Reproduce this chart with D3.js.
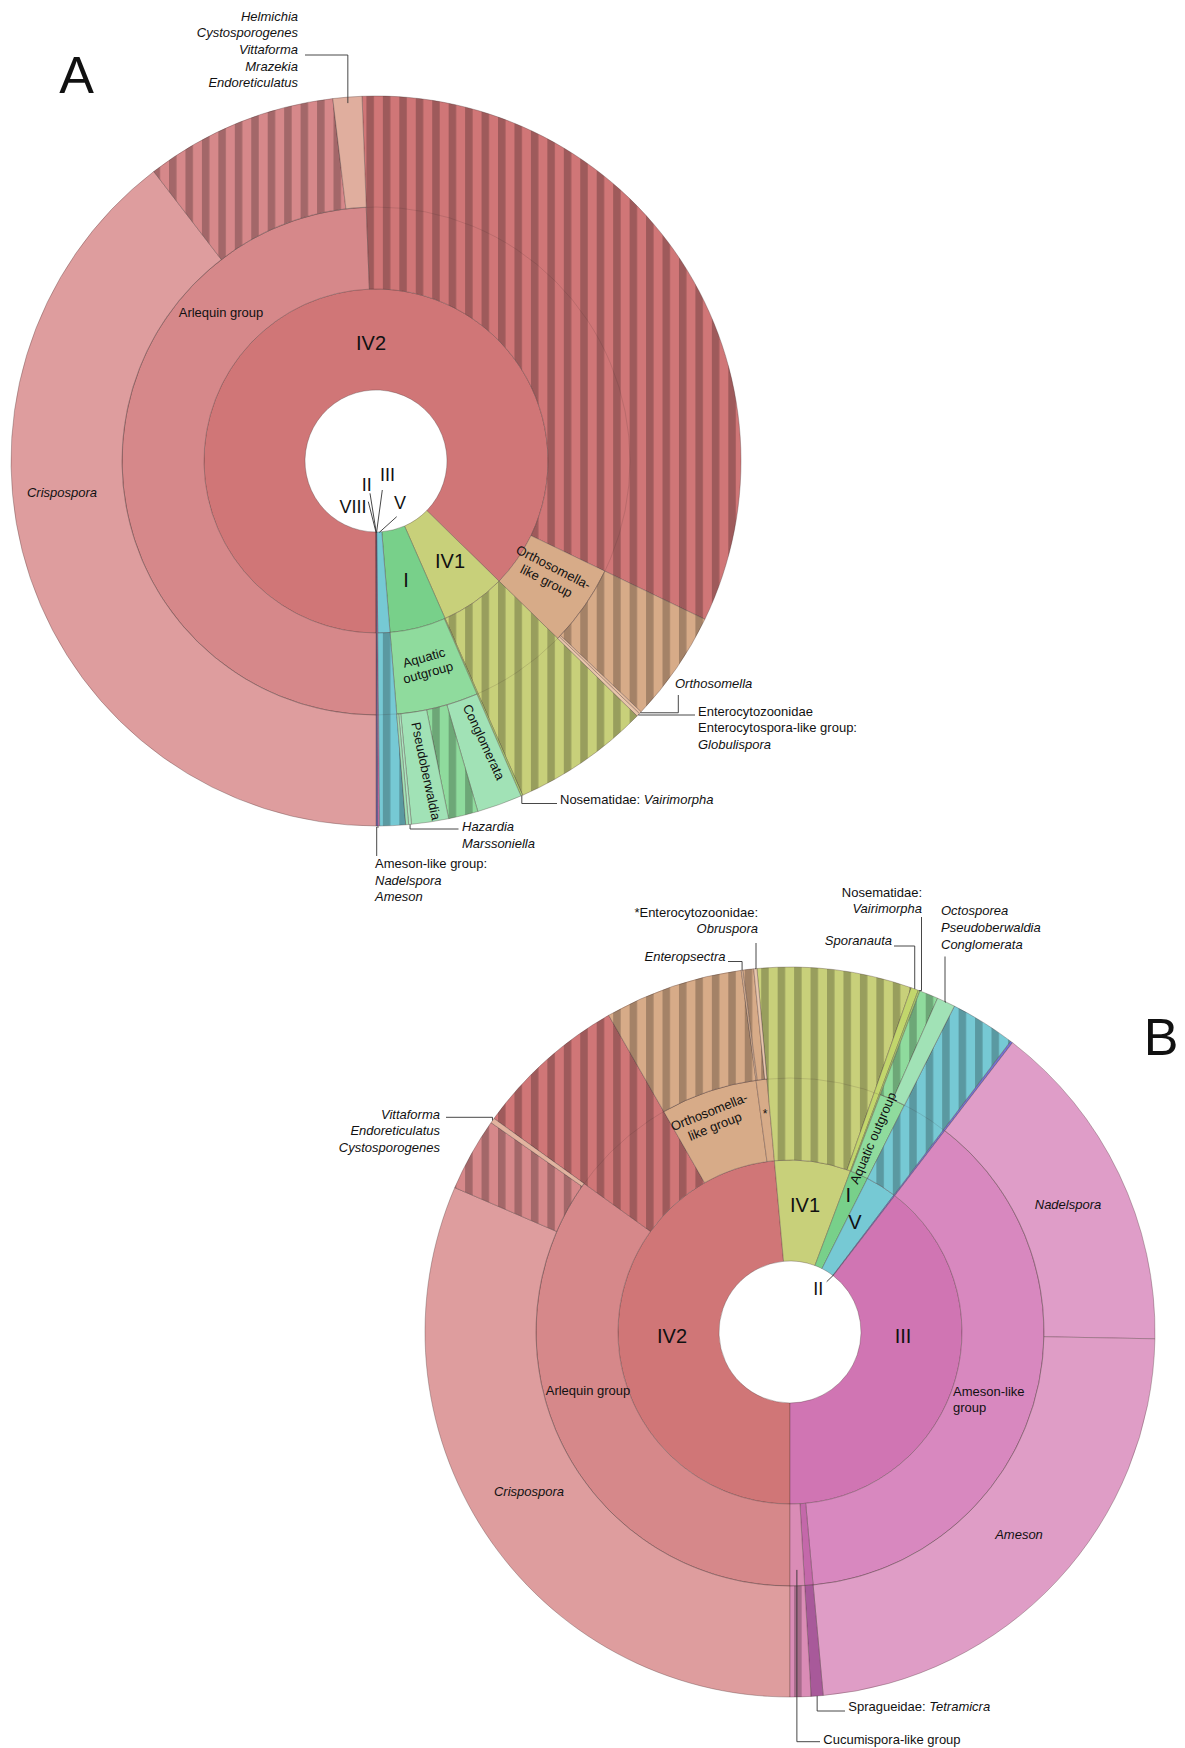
<!DOCTYPE html>
<html>
<head>
<meta charset="utf-8">
<script src="https://cdn.jsdelivr.net/npm/d3@7"></script>
<style>
  body { margin: 0; background: #fff; }
  svg { display: block; }
  text { font-family: "Liberation Sans", Arial, Helvetica, sans-serif; fill: #111; }
</style>
</head>
<body>
<div class="container"></div>
<script>
// DATA: share of reads (%) per taxon, leaves only (parents are summed)
// panel A
const cladesA = [
    ["IV2", null], ["IV1", null], ["I", null], ["V", null],
    ["III", 0.08], ["II", 0.04], ["VIII", 0.04]
];
const groupsA = [
    ["IV2", "Arlequin group", null],
    ["IV2", "unclassified IV2", 32.75],
    ["IV2", "Orthosomella-like group", null],
    ["IV1", "unclassified IV1", 6.11],
    ["I", "Nosematidae", 0.08],
    ["I", "Aquatic outgroup", null],
    ["V", "unclassified V", 1.14]
];
const generaA = [
    ["Arlequin group", "Crispospora", 39.58],
    ["Arlequin group", "unclassified Arlequin", 8.53],
    ["Arlequin group", "Helmichia group", 1.28],
    ["Orthosomella-like group", "unclassified Orthosomella-like", 4.92],
    ["Orthosomella-like group", "Orthosomella", 0.11],
    ["Orthosomella-like group", "Globulispora", 0.14],
    ["Aquatic outgroup", "Conglomerata", 2.00],
    ["Aquatic outgroup", "unclassified Aquatic", 1.31],
    ["Aquatic outgroup", "Pseudoberwaldia", 1.64],
    ["Aquatic outgroup", "Hazardia", 0.125],
    ["Aquatic outgroup", "Marssoniella", 0.125]
];

// panel B
const cladesB = [
    ["IV2", null], ["IV1", null], ["I", null], ["V", null],
    ["II", 0.11], ["III", null]
];
const groupsB = [
    ["IV2", "Arlequin group", null],
    ["IV2", "unclassified IV2", 6.78],
    ["IV2", "Orthosomella-like group", null],
    ["IV2", "*Enterocytozoonidae", null],
    ["IV1", "unclassified IV1", 6.83],
    ["IV1", "Sporanauta", 0.33],
    ["I", "Nosematidae", 0.08],
    ["I", "Aquatic outgroup", null],
    ["V", "unclassified V", 2.89],
    ["III", "Ameson-like group", null],
    ["III", "Spragueidae", null],
    ["III", "Cucumispora-like group", null]
];
const generaB = [
    ["Arlequin group", "Crispospora", 31.47],
    ["Arlequin group", "unclassified Arlequin", 3.25],
    ["Arlequin group", "Vittaforma group", 0.22],
    ["Orthosomella-like group", "unclassified Orthosomella-like", 6.14],
    ["*Enterocytozoonidae", "Enteropsectra", 0.08],
    ["*Enterocytozoonidae", "unclassified Enterocytozoonidae", 0.47],
    ["*Enterocytozoonidae", "Obruspora", 0.14],
    ["Aquatic outgroup", "unclassified Aquatic", 0.83],
    ["Aquatic outgroup", "Octosporea group", 0.81],
    ["Ameson-like group", "Nadelspora", 14.86],
    ["Ameson-like group", "Ameson", 23.25],
    ["Spragueidae", "Tetramicra", 0.53],
    ["Cucumispora-like group", "unclassified Cucumispora-like", 0.92]
];

// STYLE
const fills = {
    "IV2": "#d07677", "Arlequin group": "#d6888a", "Crispospora": "#de9d9e",
    "Helmichia group": "#e0ae9e", "Vittaforma group": "#e2b39f",
    "Orthosomella-like group": "#d7ab88", "Orthosomella": "#e4bc9f", "Globulispora": "#e9c6ab",
    "*Enterocytozoonidae": "#d7ab88", "Enteropsectra": "#dcb596", "Obruspora": "#e8c6ad",
    "IV1": "#c8d07a", "Sporanauta": "#c2d66c",
    "I": "#78d08a", "Nosematidae": "#a9d06e", "Aquatic outgroup": "#8fdb9d",
    "Conglomerata": "#a1e2b6", "Pseudoberwaldia": "#a1e2b6", "Hazardia": "#aee6c2",
    "Marssoniella": "#a1e2b6", "Octosporea group": "#a1e2b6",
    "V": "#76c9d4",
    "II": "#7470d2", "VIII": "#6b6bcc",
    "III": "#d075b3", "Ameson-like group": "#d888bf", "Nadelspora": "#df9dc8", "Ameson": "#df9dc6",
    "Spragueidae": "#c468aa", "Tetramicra": "#a8599a", "Cucumispora-like group": "#da8cb6"
};

const width = 1185, height = 1748;
const radii = [71, 172, 254, 365];
const startAngle = Math.PI;   // first clade starts at 6 o'clock
const period = 16.45;
const fontSize = 13;

const svg = d3.select(".container")
    .append("svg")
    .attr("width", width)
    .attr("height", height);

const defs = svg.append("defs");

const it = s => [s, true];
const rm = s => [s, false];

function buildTree(clades, groups, genera) {
    const rows = [{ id: "root", parent: null, share: 0 }];
    clades.forEach(([name, share]) => rows.push({ id: name, parent: "root", share: share || 0 }));
    groups.forEach(([parent, name, share]) => rows.push({ id: name, parent: parent, share: share || 0 }));
    genera.forEach(([parent, name, share]) => rows.push({ id: name, parent: parent, share: share || 0 }));
    const root = d3.stratify().id(d => d.id).parentId(d => d.parent)(rows);
    root.sum(d => d.share);
    d3.partition().size([2 * Math.PI, 3])(root);
    return root;
}

const unclassified = d => d.id.startsWith("unclassified");
const fillOf = d => unclassified(d) ? fills[d.parent.id] : fills[d.id];

function drawPanel(cfg) {
    const root = buildTree(cfg.clades, cfg.groups, cfg.genera);
    const nodes = root.descendants().filter(d => d.depth > 0);
    const cx = cfg.cx, cy = cfg.cy;

    // vertical stripes for reads without finer classification
    const pid = "stripes-" + cfg.name;
    const pattern = defs.append("pattern")
        .attr("id", pid)
        .attr("patternUnits", "userSpaceOnUse")
        .attr("width", period)
        .attr("height", 10)
        .attr("x", (((4.5 - cx) % period) + period) % period);
    pattern.append("rect")
        .attr("width", 7.5)
        .attr("height", 10)
        .attr("fill", "#000")
        .attr("fill-opacity", 0.24);

    const arc = d3.arc()
        .startAngle(d => d.x0 + startAngle)
        .endAngle(d => d.x1 + startAngle)
        .innerRadius(d => radii[d.depth - 1])
        .outerRadius(d => d.children ? radii[d.depth] : radii[3]);

    const g = svg.append("g")
        .attr("transform", `translate(${cx},${cy})`);

    g.selectAll("path.seg")
        .data(nodes)
        .join("path")
        .attr("class", "seg")
        .attr("d", arc)
        .attr("fill", fillOf)
        .attr("stroke", "#4a3434")
        .attr("stroke-opacity", 0.55)
        .attr("stroke-width", 0.6);

    g.selectAll("path.stripe")
        .data(nodes.filter(unclassified))
        .join("path")
        .attr("class", "stripe")
        .attr("d", arc)
        .attr("fill", `url(#${pid})`);

    // faint ring line through the striped bands
    g.append("circle")
        .attr("r", radii[2])
        .attr("fill", "none")
        .attr("stroke", "#3a2a2a")
        .attr("stroke-opacity", 0.25)
        .attr("stroke-width", 0.6);

    const point = (id, r) => {
        const d = root.find(n => n.id === id);
        const a = (d.x0 + d.x1) / 2 + startAngle;
        return [cx + r * Math.sin(a), cy - r * Math.cos(a)];
    };

    // labels inside the wedges, placed relative to the centre
    cfg.wedgeLabels.forEach(l => {
        const t = g.append("text")
            .attr("transform", `translate(${l.dx},${l.dy}) rotate(${l.rot || 0})`)
            .attr("text-anchor", l.anchor || "middle")
            .style("font-size", (l.size || fontSize) + "px")
            .style("font-style", l.italic ? "italic" : "normal");
        const n = l.text.length;
        l.text.forEach((line, i) => {
            t.append("tspan")
                .attr("x", 0)
                .attr("y", (i - (n - 1) / 2) * 15.5)
                .attr("dy", "0.35em")
                .text(line);
        });
    });

    // call-outs with leader lines
    const line = d3.line();
    cfg.callouts.forEach(c => {
        const tgt = point(c.target, c.r);
        const elbow = c.elbow === "hv" ? [tgt[0], c.from[1]] : [c.from[0], tgt[1]];
        svg.append("path")
            .attr("d", line([c.from, elbow, tgt]))
            .attr("fill", "none")
            .attr("stroke", "#333")
            .attr("stroke-width", 0.9);
        const t = svg.append("text")
            .attr("text-anchor", c.anchor)
            .style("font-size", fontSize + "px");
        c.lines.forEach((parts, i) => {
            parts.forEach(([s, italic], j) => {
                const sp = t.append("tspan").text(s).style("font-style", italic ? "italic" : "normal");
                if (j === 0) sp.attr("x", c.x).attr("y", c.y + i * 16.7).attr("dy", "0.35em");
            });
        });
    });

    // clade numerals with short pointers
    cfg.numerals.forEach(nm => {
        const tgt = point(nm.target, radii[0] + 0.5);
        svg.append("line")
            .attr("x1", nm.from[0]).attr("y1", nm.from[1])
            .attr("x2", tgt[0]).attr("y2", tgt[1])
            .attr("stroke", "#333")
            .attr("stroke-width", 0.9);
        svg.append("text")
            .attr("x", nm.x).attr("y", nm.y)
            .attr("dy", "0.35em")
            .attr("text-anchor", "middle")
            .style("font-size", "18px")
            .text(nm.text);
    });

    svg.append("text")
        .attr("x", cfg.letter[0]).attr("y", cfg.letter[1])
        .attr("text-anchor", "middle")
        .style("font-size", "52px")
        .text(cfg.name);
}

drawPanel({
    name: "A", cx: 376, cy: 461, letter: [76.5, 92.7],
    clades: cladesA, groups: groupsA, genera: generaA,
    wedgeLabels: [
        { text: ["IV2"], dx: -5, dy: -118, size: 20 },
        { text: ["IV1"], dx: 74, dy: 100, size: 20 },
        { text: ["I"], dx: 30, dy: 119, size: 20 },
        { text: ["Arlequin group"], dx: -155, dy: -149 },
        { text: ["Crispospora"], dx: -314, dy: 31, italic: true },
        { text: ["Orthosomella-", "like group"], dx: 174, dy: 113, rot: 27 },
        { text: ["Aquatic", "outgroup"], dx: 50, dy: 204, rot: -15.6 },
        { text: ["Conglomerata"], dx: 108, dy: 281, rot: 65 },
        { text: ["Pseudoberwaldia"], dx: 50, dy: 310, rot: 78 }
    ],
    callouts: [
        { lines: [[it("Helmichia")], [it("Cystosporogenes")], [it("Vittaforma")], [it("Mrazekia")], [it("Endoreticulatus")]],
          x: 298, y: 16, anchor: "end", from: [305, 55], elbow: "hv", target: "Helmichia group", r: 359 },
        { lines: [[it("Orthosomella")]], x: 675, y: 683, anchor: "start",
          from: [678.3, 695], elbow: "vh", target: "Orthosomella", r: 365 },
        { lines: [[rm("Enterocytozoonidae")], [rm("Enterocytospora-like group:")], [it("Globulispora")]],
          x: 698, y: 711, anchor: "start", from: [695, 715], elbow: "hv", target: "Globulispora", r: 365 },
        { lines: [[rm("Nosematidae: "), it("Vairimorpha")]], x: 560, y: 799, anchor: "start",
          from: [557, 803.5], elbow: "hv", target: "Nosematidae", r: 365 },
        { lines: [[it("Hazardia")], [it("Marssoniella")]], x: 462, y: 826.5, anchor: "start",
          from: [458.5, 829], elbow: "hv", target: "Hazardia", r: 365 },
        { lines: [[rm("Ameson-like group:")], [it("Nadelspora")], [it("Ameson")]], x: 375, y: 863.5, anchor: "start",
          from: [376.7, 856], elbow: "vh", target: "III", r: 366 }
    ],
    numerals: [
        { text: "VIII", x: 353, y: 507, from: [368.3, 501.7], target: "VIII" },
        { text: "II", x: 366.7, y: 485, from: [370, 493.3], target: "II" },
        { text: "III", x: 387.5, y: 475, from: [382.3, 490], target: "III" },
        { text: "V", x: 400, y: 502.5, from: [396.7, 516.7], target: "V" }
    ]
});

drawPanel({
    name: "B", cx: 790, cy: 1332, letter: [1161, 1054.6],
    clades: cladesB, groups: groupsB, genera: generaB,
    wedgeLabels: [
        { text: ["IV2"], dx: -118, dy: 3.5, size: 20 },
        { text: ["III"], dx: 113, dy: 3.5, size: 20 },
        { text: ["IV1"], dx: 15, dy: -127, size: 20 },
        { text: ["I"], dx: 58.3, dy: -137, size: 20 },
        { text: ["V"], dx: 65, dy: -110.3, size: 20 },
        { text: ["Aquatic outgroup"], dx: 83, dy: -194, rot: -66.8 },
        { text: ["Orthosomella-", "like group"], dx: -78, dy: -213, rot: -21.8 },
        { text: ["*"], dx: -25, dy: -218.7, size: 12 },
        { text: ["Arlequin group"], dx: -202, dy: 58 },
        { text: ["Crispospora"], dx: -261, dy: 159.6, italic: true },
        { text: ["Ameson-like", "group"], dx: 163, dy: 67.5, anchor: "start" },
        { text: ["Nadelspora"], dx: 278, dy: -128, italic: true },
        { text: ["Ameson"], dx: 229, dy: 202, italic: true }
    ],
    callouts: [
        { lines: [[rm("*Enterocytozoonidae:")], [it("Obruspora")]], x: 758, y: 912, anchor: "end",
          from: [756, 943], elbow: "vh", target: "Obruspora", r: 365 },
        { lines: [[it("Enteropsectra")]], x: 725.5, y: 956.5, anchor: "end",
          from: [728, 961.5], elbow: "hv", target: "Enteropsectra", r: 365 },
        { lines: [[rm("Nosematidae:")], [it("Vairimorpha")]], x: 922, y: 892, anchor: "end",
          from: [921.5, 917], elbow: "vh", target: "Nosematidae", r: 365 },
        { lines: [[it("Sporanauta")]], x: 892, y: 940, anchor: "end",
          from: [894, 946], elbow: "hv", target: "Sporanauta", r: 365 },
        { lines: [[it("Octosporea")], [it("Pseudoberwaldia")], [it("Conglomerata")]], x: 941, y: 910.8, anchor: "start",
          from: [945, 956.5], elbow: "vh", target: "Octosporea group", r: 365 },
        { lines: [[it("Vittaforma")], [it("Endoreticulatus")], [it("Cystosporogenes")]], x: 440, y: 1114, anchor: "end",
          from: [446, 1117.3], elbow: "hv", target: "Vittaforma group", r: 365 },
        { lines: [[rm("Spragueidae: "), it("Tetramicra")]], x: 848.3, y: 1706.7, anchor: "start",
          from: [845, 1711], elbow: "hv", target: "Tetramicra", r: 365 },
        { lines: [[rm("Cucumispora-like group")]], x: 823.3, y: 1739.5, anchor: "start",
          from: [820, 1741.7], elbow: "hv", target: "Cucumispora-like group", r: 238 }
    ],
    numerals: [
        { text: "II", x: 818.3, y: 1288.3, from: [826.7, 1281.7], target: "II" }
    ]
});
</script>
</body>
</html>
